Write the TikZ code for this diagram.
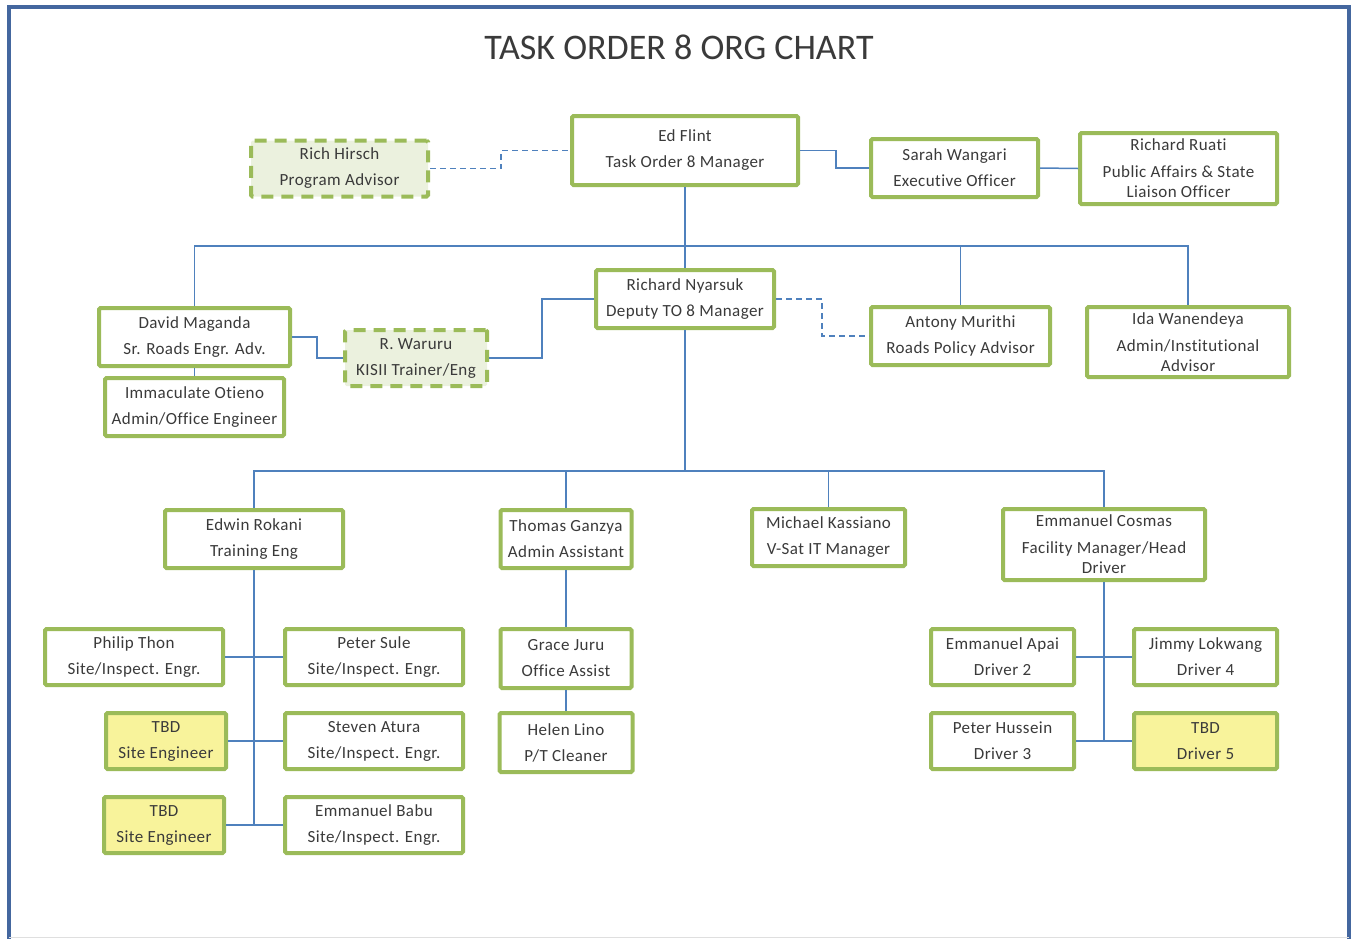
\documentclass[tikz,border=0pt]{standalone}
\usepackage{fontspec}
\setmainfont[Ligatures=NoCommon]{Carlito}
\newfontfamily\boxfont[LetterSpace=2.5, Ligatures=NoCommon]{Carlito}
\usepackage{tikz}
\usetikzlibrary{calc}
\definecolor{boxgreen}{HTML}{9BBB59}
\definecolor{linkblue}{HTML}{4F81BD}
\definecolor{frameblue}{HTML}{44679F}
\definecolor{tbdyellow}{HTML}{F8F39B}
\definecolor{advfill}{HTML}{EBF1DE}
\definecolor{textgray}{HTML}{3A3A3A}
\begin{document}
\begin{tikzpicture}[x=1pt, y=-1pt,
    box/.style={draw=boxgreen, line width=4pt, fill=white, rounded corners=1.5pt, align=center,
        inner sep=0pt, text=textgray, font=\boxfont\fontsize{17}{20}\selectfont},
    tbd/.style={box, fill=tbdyellow},
    adviser/.style={box, fill=advfill, dash pattern=on 12pt off 8pt},
    link/.style={draw=linkblue, line width=1.5pt},
    dlink/.style={link, dash pattern=on 6pt off 4pt}]
    \useasboundingbox (0,0) rectangle (1351,938);
    \draw[frameblue, line width=4pt] (9,942) -- (9,7) -- (1349,7) -- (1349,942);
    \draw[gray!25, line width=1pt] (9,937) -- (1349,937);
    \node[text=textgray, font=\fontsize{36}{40}\selectfont] (title) at (679,47) {TASK ORDER 8 ORG CHART};

    \node[adviser, minimum width=177, minimum height=56] (hirsch) at (339.5,168.5) {Rich Hirsch\\[6pt]Program Advisor};
    \node[box, minimum width=226, minimum height=69] (flint) at (685,150.5) {Ed Flint\\[6pt]Task Order 8 Manager};
    \node[box, minimum width=167, minimum height=58] (wangari) at (954.5,168) {Sarah Wangari\\[6pt]Executive Officer};
    \node[box, minimum width=197, minimum height=71] (ruati) at (1178.5,168.5) {Richard Ruati\\[7pt]Public Affairs \& State\\Liaison Officer};

    \node[box, minimum width=178, minimum height=58] (nyarsuk) at (685,299) {Richard Nyarsuk\\[6pt]Deputy TO 8 Manager};
    \node[box, minimum width=191, minimum height=58] (maganda) at (194.5,337) {David Maganda\\[6pt]Sr. Roads Engr. Adv.};
    \node[box, minimum width=179, minimum height=58] (otieno) at (194.5,407) {Immaculate Otieno\\[6pt]Admin/Office Engineer};
    \node[adviser, minimum width=142, minimum height=56] (waruru) at (416,358) {R. Waruru\\[6pt]KISII Trainer/Eng};
    \node[box, minimum width=179, minimum height=58] (murithi) at (960.5,336) {Antony Murithi\\[6pt]Roads Policy Advisor};
    \node[box, minimum width=202, minimum height=70] (wanendeya) at (1188,342) {Ida Wanendeya\\[7pt]Admin/Institutional\\Advisor};

    \node[box, minimum width=178, minimum height=58] (rokani) at (254,539) {Edwin Rokani\\[6pt]Training Eng};
    \node[box, minimum width=131, minimum height=58] (ganzya) at (566,539) {Thomas Ganzya\\[6pt]Admin Assistant};
    \node[box, minimum width=153, minimum height=57] (kassiano) at (828.5,537.5) {Michael Kassiano\\[6pt]V-Sat IT Manager};
    \node[box, minimum width=202, minimum height=71] (cosmas) at (1104,544.5) {Emmanuel Cosmas\\[7pt]Facility Manager/Head\\Driver};

    \node[box, minimum width=178, minimum height=56] (thon) at (134,657) {Philip Thon\\[6pt]Site/Inspect. Engr.};
    \node[box, minimum width=178, minimum height=56] (sule) at (374,657) {Peter Sule\\[6pt]Site/Inspect. Engr.};
    \node[tbd, minimum width=120, minimum height=56] (tbda) at (166,741) {TBD\\[6pt]Site Engineer};
    \node[box, minimum width=178, minimum height=56] (atura) at (374,741) {Steven Atura\\[6pt]Site/Inspect. Engr.};
    \node[tbd, minimum width=120, minimum height=56] (tbdb) at (164,825) {TBD\\[6pt]Site Engineer};
    \node[box, minimum width=178, minimum height=56] (babu) at (374,825) {Emmanuel Babu\\[6pt]Site/Inspect. Engr.};

    \node[box, minimum width=131, minimum height=59] (juru) at (566,658.5) {Grace Juru\\[6pt]Office Assist};
    \node[box, minimum width=133, minimum height=59] (lino) at (566,742.5) {Helen Lino\\[6pt]P/T Cleaner};

    \node[box, minimum width=143, minimum height=56] (apai) at (1002.5,657) {Emmanuel Apai\\[6pt]Driver 2};
    \node[box, minimum width=143, minimum height=56] (lokwang) at (1205.5,657) {Jimmy Lokwang\\[6pt]Driver 4};
    \node[box, minimum width=143, minimum height=56] (hussein) at (1002.5,741) {Peter Hussein\\[6pt]Driver 3};
    \node[tbd, minimum width=143, minimum height=56] (tbdc) at (1205.5,741) {TBD\\[6pt]Driver 5};

    \coordinate (bar1) at (685,246);
    \coordinate (bar2) at (685,471);

    \draw[dlink] (hirsch.east) -- ++(71,0) |- (flint.west);
    \draw[link] (flint.east) -- ++(36,0) |- (wangari.west);
    \draw[link] (wangari.east) -- (ruati.west);
    \draw[link] (flint.south) -- (nyarsuk.north);
    \draw[link] (maganda.north) |- (bar1) -| (wanendeya.north);
    \draw[link] (murithi.north) -- (murithi.north |- bar1);
    \draw[link] (maganda.south) -- (otieno.north);
    \draw[link] (nyarsuk.west) -- ++(-52,0) |- (waruru.east);
    \draw[link] (waruru.west) -- ++(-26,0) |- (maganda.east);
    \draw[dlink] (nyarsuk.east) -- ++(46,0) |- (murithi.west);

    \draw[link] (nyarsuk.south) -- (bar2);
    \draw[link] (rokani.north) |- (bar2) -| (cosmas.north);
    \foreach \n in {ganzya, kassiano}
        \draw[link] (\n.north) -- (\n.north |- bar2);

    \draw[link] (rokani.south) -- (rokani.south |- babu.west);
    \foreach \a/\b in {thon/sule, tbda/atura, tbdb/babu}
        \draw[link] (\a.east) -- (\b.west);
    \draw[link] (ganzya.south) -- (juru.north);
    \draw[link] (juru.south) -- (lino.north);
    \draw[link] (cosmas.south) -- (cosmas.south |- hussein.east);
    \foreach \a/\b in {apai/lokwang, hussein/tbdc}
        \draw[link] (\a.east) -- (\b.west);
\end{tikzpicture}
\end{document}
